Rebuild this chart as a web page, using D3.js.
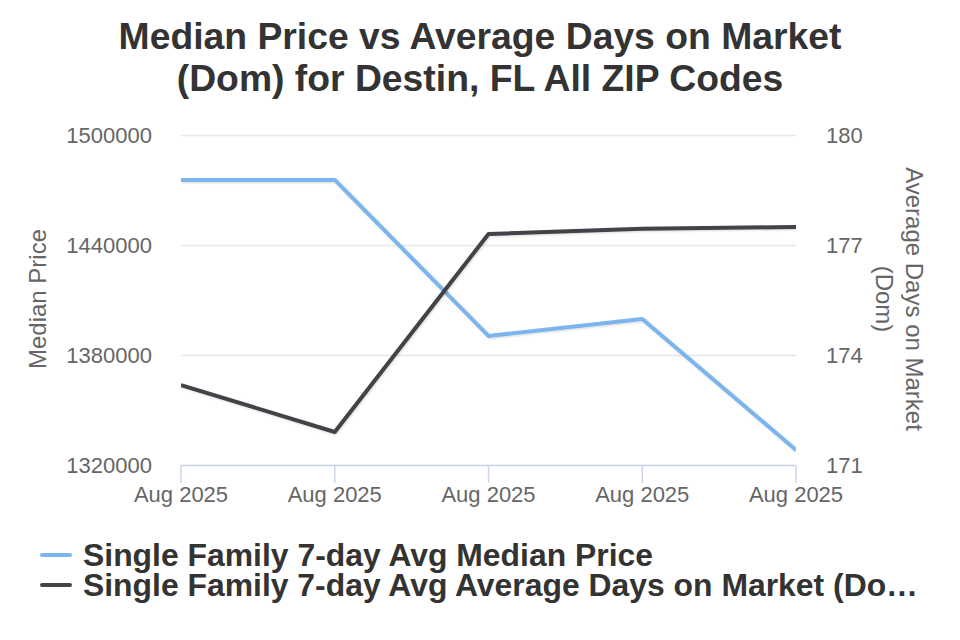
<!DOCTYPE html>
<html>
<head>
<meta charset="utf-8">
<script src="https://cdn.jsdelivr.net/npm/d3@7"></script>
<style>
  body { margin: 0; background: #fff; }
  svg { font-family: "Liberation Sans", Arial, sans-serif; }
</style>
</head>
<body>
<svg id="chart" width="960" height="640"></svg>
<script>
// data
var categories = ["Aug 2025", "Aug 2025", "Aug 2025", "Aug 2025", "Aug 2025"];
var medianPrice = [1475500, 1475500, 1390400, 1399600, 1328200];
var daysOnMarket = [173.18, 171.9, 177.3, 177.44, 177.49];
var priceTicks = [1320000, 1380000, 1440000, 1500000];
var domTicks = [171, 174, 177, 180];
var seriesNames = ["Single Family 7-day Avg Median Price", "Single Family 7-day Avg Average Days on Market (Do\u2026"];
var colors = ["#7cb5ec", "#434348"];

var svg = d3.select("#chart");
var plotLeft = 181, plotRight = 796, plotTop = 135, plotBottom = 465;

var x = d3.scalePoint().domain(d3.range(categories.length)).range([plotLeft, plotRight]);
var yL = d3.scaleLinear().domain([1320000, 1500000]).range([plotBottom, plotTop]);
var yR = d3.scaleLinear().domain([171, 180]).range([plotBottom, plotTop]);

// title
svg.append("text")
  .attr("x", 480).attr("text-anchor", "middle")
  .attr("font-size", 37.3).attr("font-weight", "bold").attr("fill", "#333")
  .selectAll("tspan")
  .data(["Median Price vs Average Days on Market", "(Dom) for Destin, FL All ZIP Codes"])
  .enter().append("tspan")
  .attr("x", 480).attr("y", function(d, i) { return 49 + i * 42; })
  .text(function(d) { return d; });

// gridlines
svg.append("g").selectAll("line").data(priceTicks).enter().append("line")
  .attr("x1", plotLeft).attr("x2", plotRight)
  .attr("y1", function(d) { return yL(d) + 0.5; }).attr("y2", function(d) { return yL(d) + 0.5; })
  .attr("stroke", "#e6e6e6").attr("stroke-width", 1.5);

// left axis labels
svg.append("g").selectAll("text").data(priceTicks).enter().append("text")
  .attr("x", 152).attr("y", function(d) { return yL(d) + 8; })
  .attr("text-anchor", "end").attr("font-size", 22).attr("fill", "#666")
  .text(function(d) { return d; });

// right axis labels
svg.append("g").selectAll("text").data(domTicks).enter().append("text")
  .attr("x", 826).attr("y", function(d) { return yR(d) + 8; })
  .attr("text-anchor", "start").attr("font-size", 22).attr("fill", "#666")
  .text(function(d) { return d; });

// axis titles
svg.append("text")
  .attr("transform", "translate(46,299) rotate(-90)")
  .attr("text-anchor", "middle").attr("font-size", 24).attr("fill", "#666")
  .text("Median Price");

svg.append("text")
  .attr("transform", "translate(906,299) rotate(90)")
  .attr("text-anchor", "middle").attr("font-size", 24).attr("fill", "#666")
  .selectAll("tspan").data(["Average Days on Market", "(Dom)"]).enter().append("tspan")
  .attr("x", 0).attr("dy", function(d, i) { return i === 0 ? 0 : 30; })
  .text(function(d) { return d; });

// x axis
svg.append("line")
  .attr("x1", plotLeft).attr("x2", plotRight).attr("y1", plotBottom + 0.5).attr("y2", plotBottom + 0.5)
  .attr("stroke", "#ccd6eb").attr("stroke-width", 1.5);
svg.append("g").selectAll("line").data(d3.range(categories.length)).enter().append("line")
  .attr("x1", function(d) { return x(d); }).attr("x2", function(d) { return x(d); })
  .attr("y1", plotBottom).attr("y2", plotBottom + 18)
  .attr("stroke", "#ccd6eb").attr("stroke-width", 1.5);
svg.append("g").selectAll("text").data(categories).enter().append("text")
  .attr("x", function(d, i) { return x(i); }).attr("y", 502)
  .attr("text-anchor", "middle").attr("font-size", 22).attr("fill", "#666")
  .text(function(d) { return d; });

// shadow filter
var defs = svg.append("defs");
var f = defs.append("filter").attr("id", "shadow").attr("x", "-10%").attr("y", "-10%").attr("width", "120%").attr("height", "130%");
f.append("feDropShadow").attr("dx", 1).attr("dy", 1).attr("stdDeviation", 1.2)
  .attr("flood-color", "#000").attr("flood-opacity", 0.15);

var clip = defs.append("clipPath").attr("id", "plot");
clip.append("rect").attr("x", plotLeft).attr("y", plotTop - 10).attr("width", plotRight - plotLeft).attr("height", plotBottom - plotTop + 10);

var lineL = d3.line().x(function(d, i) { return x(i); }).y(function(d) { return yL(d); });
var lineR = d3.line().x(function(d, i) { return x(i); }).y(function(d) { return yR(d); });

var plot = svg.append("g").attr("clip-path", "url(#plot)");
plot.append("path").datum(medianPrice).attr("d", lineL)
  .attr("fill", "none").attr("stroke", colors[0]).attr("stroke-width", 4)
  .attr("stroke-linejoin", "round").attr("filter", "url(#shadow)");
plot.append("path").datum(daysOnMarket).attr("d", lineR)
  .attr("fill", "none").attr("stroke", colors[1]).attr("stroke-width", 4)
  .attr("stroke-linejoin", "round").attr("filter", "url(#shadow)");

// legend
var legend = svg.append("g").selectAll("g").data(seriesNames).enter().append("g")
  .attr("transform", function(d, i) { return "translate(40," + (555 + i * 30) + ")"; });
legend.append("line")
  .attr("x1", 2).attr("x2", 30).attr("y1", 0).attr("y2", 0)
  .attr("stroke", function(d, i) { return colors[i]; }).attr("stroke-width", 4)
  .attr("stroke-linecap", "round");
legend.append("text")
  .attr("x", 43).attr("y", 11)
  .attr("font-size", 32).attr("font-weight", "bold").attr("fill", "#333")
  .attr("textLength", function(d, i) { return i === 0 ? 570 : 835; })
  .attr("lengthAdjust", "spacingAndGlyphs")
  .text(function(d) { return d; });
</script>
</body>
</html>
